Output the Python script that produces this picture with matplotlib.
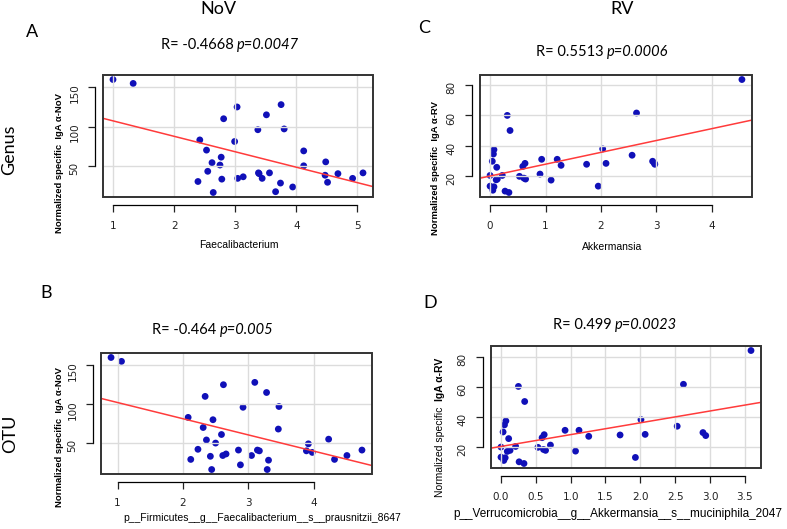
import numpy as np
import matplotlib
matplotlib.use("Agg")
import matplotlib.pyplot as plt
from matplotlib.patches import Rectangle

W, H = 787, 529
LBL_FONT = "Lato"
AX_FONT = "Liberation Sans"

# ---- data ----
# A: Genus, NoV
faecali_genus = [1.00, 1.33, 2.39, 2.42, 2.53, 2.55, 2.62, 2.64, 2.75, 2.77, 2.78, 2.81,
                 2.99, 3.03, 3.04, 3.13, 3.37, 3.38, 3.39, 3.44, 3.51, 3.56, 3.66, 3.74,
                 3.75, 3.80, 3.94, 4.12, 4.12, 4.47, 4.48, 4.51, 4.68, 4.92, 5.09]
nov_genus = [160, 155, 30, 83, 70, 43, 54, 16, 51, 61, 33, 110,
             81, 125, 34, 36, 96, 41, 40, 34, 115, 41, 17, 28,
             128, 97, 23, 69, 50, 38, 55, 29, 40, 34, 41]
fit_A = (127.0, -19.7)

# C: Genus, RV
akk_genus = [0.00, 0.00, 0.04, 0.05, 0.06, 0.07, 0.07, 0.11, 0.12, 0.13, 0.22, 0.27,
             0.31, 0.34, 0.36, 0.53, 0.59, 0.63, 0.61, 0.64, 0.90, 0.93, 1.10, 1.21,
             1.28, 1.74, 1.95, 2.03, 2.09, 2.56, 2.64, 2.93, 2.96, 2.97, 4.54]
rv_genus = [20.2, 13.1, 29.6, 10.4, 34.4, 37.3, 12.7, 17.3, 25.6, 17.8, 20.2, 9.8,
            60.0, 8.9, 50.0, 19.6, 26.2, 28.2, 18.4, 17.8, 21.1, 30.9, 17.1, 30.9,
            26.9, 27.6, 13.1, 37.8, 28.2, 33.6, 61.6, 29.6, 28.4, 27.6, 83.8]
fit_C = (19.8, 7.86)

# B: OTU, NoV
faecali_otu = [0.90, 1.06, 2.08, 2.12, 2.23, 2.31, 2.34, 2.36, 2.42, 2.44, 2.46, 2.50,
               2.59, 2.61, 2.62, 2.66, 2.85, 2.88, 2.92, 3.05, 3.10, 3.14, 3.17, 3.28,
               3.29, 3.31, 3.46, 3.47, 3.89, 3.92, 3.98, 4.23, 4.32, 4.51, 4.74]
nov_otu = [160, 155, 83, 29, 42, 70, 110, 54, 33, 16, 80, 50,
           61, 34, 125, 36, 41, 22, 96, 34, 128, 41, 40, 115,
           16, 28, 68, 97, 40, 49, 38, 55, 29, 34, 41]
fit_B = (122.9, -20.8)

# D: OTU, RV
akk_otu = [0.00, 0.00, 0.03, 0.04, 0.05, 0.07, 0.06, 0.09, 0.11, 0.13, 0.21, 0.25,
           0.26, 0.33, 0.34, 0.53, 0.59, 0.62, 0.61, 0.64, 0.71, 0.92, 1.07, 1.12,
           1.26, 1.71, 1.93, 2.01, 2.07, 2.53, 2.62, 2.90, 2.94, 3.59]
rv_otu = [20.0, 13.3, 30.0, 11.1, 34.7, 37.3, 12.9, 17.1, 25.6, 17.8, 20.4, 60.2,
          10.2, 9.1, 50.2, 19.8, 26.2, 28.2, 18.4, 17.8, 21.3, 31.1, 17.3, 31.1,
          27.1, 28.0, 13.1, 38.2, 28.4, 33.8, 61.6, 29.6, 27.6, 84.0]
fit_D = (20.4, 7.83)

panels = [
    dict(x=faecali_genus, y=nov_genus, fit=fit_A, box=(103, 75, 373, 197),
         xticks=[1, 2, 3, 4, 5], yticks=[50, 100, 150], xfmt="{:g}",
         xlabel="Faecalibacterium", xlabel_xy=(239, 245), xlabel_fs=7.5,
         yl="IgA \u03b1-NoV", yl_x=60, yl_bottom=233, letter="A", letter_xy=(32, 32),
         stat=("-0.4668", "0.0047"), stat_xy=(230, 45)),
    dict(x=akk_genus, y=rv_genus, fit=fit_C, box=(480, 75, 752, 197),
         xticks=[0, 1, 2, 3, 4], yticks=[20, 40, 60, 80], xfmt="{:g}",
         xlabel="Akkermansia", xlabel_xy=(612, 247), xlabel_fs=7.5,
         yl="IgA \u03b1-RV", yl_x=436, yl_bottom=235, letter="C", letter_xy=(424, 28),
         stat=("0.5513", "0.0006"), stat_xy=(602, 52)),
    dict(x=faecali_otu, y=nov_otu, fit=fit_B, box=(101, 353, 372, 474),
         xticks=[1, 2, 3, 4], yticks=[50, 100, 150], xfmt="{:g}",
         xlabel="p__Firmicutes__g__Faecalibacterium__s__prausnitzii_8647",
         xlabel_xy=(262, 518), xlabel_fs=7.5,
         yl="IgA \u03b1-NoV", yl_x=60, yl_bottom=507, letter="B", letter_xy=(46, 293),
         stat=("-0.464", "0.005"), stat_xy=(213, 330)),
    dict(x=akk_otu, y=rv_otu, fit=fit_D, box=(491, 346, 761, 468),
         xticks=[0.0, 0.5, 1.0, 1.5, 2.0, 2.5, 3.0, 3.5], yticks=[20, 40, 60, 80],
         xfmt="{:.1f}",
         xlabel="p__Verrucomicrobia__g__Akkermansia__s__muciniphila_2047",
         xlabel_xy=(618, 514), xlabel_fs=8.5,
         yl="IgA \u03b1-RV", yl_x=440, yl_bottom=497, letter="D", letter_xy=(430, 303),
         stat=("0.499", "0.0023"), stat_xy=(615, 325)),
]

fig = plt.figure(figsize=(W / 100, H / 100), dpi=100)
fig.patch.set_facecolor("white")


def fx(px):
    return px / W


def fy(py):
    return 1 - py / H


def r_range(v):
    lo, hi = min(v), max(v)
    d = (hi - lo) * 0.04
    return lo - d, hi + d


renderer = fig.canvas.get_renderer()

for p in panels:
    l, t, r, b = p["box"]
    ax = fig.add_axes([fx(l), fy(b), fx(r) - fx(l), fy(t) - fy(b)])
    xs, ys = np.array(p["x"]), np.array(p["y"])
    ax.scatter(xs, ys, s=24, color="#1010b8", edgecolors="none", zorder=1)
    xlo, xhi = r_range(xs)
    ylo, yhi = r_range(ys)
    xx = np.array([xlo, xhi])
    a0, a1 = p["fit"]
    ax.plot(xx, a0 + a1 * xx, color="#ff3b3b", lw=1.1, zorder=3)
    ax.set_xlim(xlo, xhi)
    ax.set_ylim(ylo, yhi)

    ax.set_axisbelow(False)
    ax.grid(True, color="#dcdcdc", lw=1.0, zorder=2.5)
    ax.set_xticks(p["xticks"])
    ax.set_yticks(p["yticks"])
    ax.set_xticklabels([p["xfmt"].format(v) for v in p["xticks"]])
    ax.set_yticklabels([str(v) for v in p["yticks"]])
    ax.tick_params(direction="out", length=5, width=0.9, pad=6, colors="#222222",
                   labelsize=7.5)
    ax.tick_params(axis="y", labelrotation=90)
    for lbl in ax.get_xticklabels() + ax.get_yticklabels():
        lbl.set_fontfamily(AX_FONT)
    for lbl in ax.get_yticklabels():
        lbl.set_va("center")
    for s in ["top", "right"]:
        ax.spines[s].set_visible(False)
    ax.spines["bottom"].set_position(("outward", 6))
    ax.spines["left"].set_position(("outward", 6))
    ax.spines["bottom"].set_bounds(p["xticks"][0], p["xticks"][-1])
    ax.spines["left"].set_bounds(p["yticks"][0], p["yticks"][-1])
    for s in ["bottom", "left"]:
        ax.spines[s].set_linewidth(0.9)
    ax.add_patch(Rectangle((0, 0), 1, 1, transform=ax.transAxes, fill=False,
                           lw=1.4, ec="#333333", clip_on=False, zorder=5))

    # x label
    fig.text(fx(p["xlabel_xy"][0]), fy(p["xlabel_xy"][1]), p["xlabel"], ha="center",
             va="center", fontfamily=AX_FONT, fontsize=p["xlabel_fs"])
    # y label: "Normalized specific" + bold "IgA a-..."
    if p["letter"] == "D":
        t1 = fig.text(fx(p["yl_x"]), fy(p["yl_bottom"]), "Normalized specific  ",
                      rotation=90, rotation_mode="anchor", ha="left", va="center",
                      fontfamily=AX_FONT, fontsize=7.5)
        bb = t1.get_window_extent(renderer)
        fig.text(fx(p["yl_x"]), bb.y1 / H, p["yl"], rotation=90, rotation_mode="anchor",
                 ha="left", va="center", fontfamily=AX_FONT, fontsize=7.5,
                 fontweight="bold")
    else:
        fig.text(fx(p["yl_x"]), fy(p["yl_bottom"]), "Normalized specific  " + p["yl"],
                 rotation=90, rotation_mode="anchor", ha="left", va="center",
                 fontfamily=AX_FONT, fontsize=6.8, fontweight="bold")

    # panel letter
    fig.text(fx(p["letter_xy"][0]), fy(p["letter_xy"][1]), p["letter"], ha="center",
             va="center", fontfamily=LBL_FONT, fontsize=13)

    # R / p annotation
    rv, pv = p["stat"]
    s1 = fig.text(0, fy(p["stat_xy"][1]), "R= %s " % rv, ha="left", va="center",
                  fontfamily=LBL_FONT, fontsize=10.5)
    s2 = fig.text(0, fy(p["stat_xy"][1]), "p=%s" % pv, ha="left", va="center",
                  fontfamily=LBL_FONT, fontsize=10.5, style="italic")
    w1 = s1.get_window_extent(renderer).width
    w2 = s2.get_window_extent(renderer).width
    x0 = p["stat_xy"][0] - (w1 + w2) / 2
    s1.set_x(fx(x0))
    s2.set_x(fx(x0 + w1))

# column / row headers
fig.text(fx(218), fy(9), "NoV", ha="center", va="center", fontfamily=LBL_FONT, fontsize=13)
fig.text(fx(622), fy(9), "RV", ha="center", va="center", fontfamily=LBL_FONT, fontsize=13)
fig.text(fx(9), fy(150), "Genus", rotation=90, ha="center", va="center",
         fontfamily=LBL_FONT, fontsize=13)
fig.text(fx(10), fy(434), "OTU", rotation=90, ha="center", va="center",
         fontfamily=LBL_FONT, fontsize=13)

fig.savefig("out.png", dpi=100, facecolor="white")
